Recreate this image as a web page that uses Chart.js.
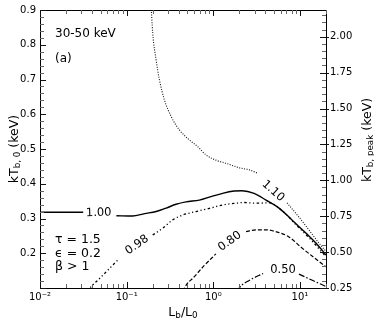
<!DOCTYPE html>
<html>
<head>
<meta charset="utf-8">
<script src="https://cdn.jsdelivr.net/npm/chart.js@4"></script>
<style>
  html, body { margin: 0; padding: 0; background: #fff; }
  #wrap { width: 374px; height: 321px; }
</style>
</head>
<body>
<div id="wrap"><canvas id="myChart" width="374" height="321"></canvas></div>
<script>
// contour levels
const levels = ["1.10", "1.00", "0.98", "0.80", "0.50"];

// L_b/L_0 (x) and kT_b,0 in keV (y) along each contour, null = gap for the label
const lb110 = [0.19, 0.200, 0.219, 0.239, 0.273, 0.327, 0.406, 0.530, 0.660, 0.825, 1.07, 1.40, 1.99, 2.60, 3.21, 4.8, 7.10, 9.75, 12.7, 16.5, 20];
const kt110 = [0.93, 0.833, 0.756, 0.699, 0.641, 0.593, 0.555, 0.526, 0.507, 0.483, 0.468, 0.459, 0.446, 0.440, 0.431, null, 0.345, 0.304, 0.267, 0.230, 0.205];

const lb100 = [0.01, 0.0315, 0.05, 0.0762, 0.117, 0.161, 0.219, 0.286, 0.372, 0.485, 0.690, 0.942, 1.28, 1.74, 2.15, 2.96, 4.06, 5.74, 8.09, 11.7, 15.3, 20];
const kt100 = [0.318, 0.318, null, 0.308, 0.307, 0.314, 0.320, 0.330, 0.341, 0.348, 0.353, 0.363, 0.3725, 0.379, 0.380, 0.3725, 0.353, 0.330, 0.296, 0.258, 0.2295, 0.195];

const lb098 = [0.035, 0.0376, 0.049, 0.061, 0.0794, 0.13, 0.200, 0.261, 0.340, 0.443, 0.632, 0.900, 1.28, 1.82, 2.27, 3.10, 4.41, 6.27, 8.93, 12.7, 20];
const kt098 = [0.09, 0.100, 0.128, 0.152, 0.181, null, 0.2525, 0.272, 0.296, 0.310, 0.320, 0.329, 0.339, 0.344, 0.346, 0.344, 0.345, 0.322, 0.283, 0.245, 0.190];

const lb080 = [0.45, 0.465, 0.605, 0.789, 1.07, 1.6, 2.39, 3.12, 4.06, 5.30, 7.48, 10.4, 14.9, 20];
const kt080 = [0.09, 0.100, 0.1325, 0.165, 0.198, null, 0.262, 0.2675, 0.2675, 0.262, 0.247, 0.2166, 0.1855, 0.161];

const lb050 = [1.9, 1.99, 2.66, 3.76, 6.0, 9.75, 13.7, 20];
const kt050 = [0.09, 0.100, 0.123, 0.1417, null, 0.140, 0.123, 0.1043];

// tick values and labels
const xTickValues = [0.01, 0.1, 1, 10];
const xTickLabels = ["10⁻²", "10⁻¹", "10⁰", "10¹"];
const yTickValues = [0.2, 0.3, 0.4, 0.5, 0.6, 0.7, 0.8, 0.9];
const y2TickValues = [0.25, 0.5, 0.75, 1.0, 1.25, 1.5, 1.75, 2.0];

// where each contour label sits (data coords) and its angle
const labelSpots = [
  { text: levels[0], x: 4.9, y: 0.379, rot: 42 },
  { text: levels[1], x: 0.0477, y: 0.316, rot: -2 },
  { text: levels[2], x: 0.132, y: 0.2237, rot: -35 },
  { text: levels[3], x: 1.55, y: 0.234, rot: -36 },
  { text: levels[4], x: 6.38, y: 0.153, rot: 0 },
];

const toPoints = (xs, ys) => xs.map((x, i) => ({ x: x, y: ys[i] }));

const FONT = "'DejaVu Sans', 'Liberation Sans', sans-serif";

// draws text with subscript parts, centred at (x, y), rotated by rot
function drawRich(ctx, parts, x, y, rot, size) {
  ctx.save();
  ctx.translate(x, y);
  ctx.rotate(rot);
  let total = 0;
  const widths = parts.map((p) => {
    ctx.font = (p.sub ? size * 0.7 : size) + "px " + FONT;
    const w = ctx.measureText(p.t).width;
    total += w;
    return w;
  });
  let cx = -total / 2;
  ctx.textBaseline = "alphabetic";
  ctx.textAlign = "left";
  ctx.fillStyle = "#000";
  parts.forEach((p, i) => {
    ctx.font = (p.sub ? size * 0.7 : size) + "px " + FONT;
    ctx.fillText(p.t, cx, p.sub ? size * 0.55 : size * 0.36);
    cx += widths[i];
  });
  ctx.restore();
}

const decorations = {
  id: "decorations",
  afterDraw(chart) {
    const { ctx, chartArea: a, scales } = chart;
    const xs = scales.x, ys = scales.y, y2 = scales.y2;

    ctx.save();
    // top frame line
    ctx.strokeStyle = "#000";
    ctx.lineWidth = 1;
    ctx.beginPath();
    ctx.moveTo(a.left, a.top + 0.5);
    ctx.lineTo(a.right, a.top + 0.5);
    ctx.stroke();

    const tick = (x1, y1, x2, y2_, major) => {
      ctx.strokeStyle = major ? "#111" : "#666";
      ctx.beginPath();
      ctx.moveTo(x1, y1);
      ctx.lineTo(x2, y2_);
      ctx.stroke();
    };

    // x ticks, bottom and top, pointing in
    for (let d = -2; d <= 1; d++) {
      for (let m = 1; m <= 9; m++) {
        const v = m * Math.pow(10, d);
        if (v > 20) continue;
        const px = Math.round(xs.getPixelForValue(v)) + 0.5;
        const len = m === 1 ? 6 : 4;
        tick(px, a.bottom, px, a.bottom - len, m === 1);
        tick(px, a.top, px, a.top + len, m === 1);
      }
    }
    // left ticks
    for (let i = 0; i <= 40; i++) {
      const v = 0.1 + i * 0.02;
      const py = Math.round(ys.getPixelForValue(v)) + 0.5;
      const major = i % 5 === 0;
      tick(a.left, py, a.left + (major ? 6 : 4), py, major);
    }
    // right ticks
    for (let i = 0; i <= 40; i++) {
      const v = 0.25 + i * 0.05;
      if (v > y2.max) break;
      const py = Math.round(y2.getPixelForValue(v)) + 0.5;
      const major = i % 5 === 0;
      if (major) tick(a.right - 6, py, a.right + 3, py, true);
      else tick(a.right - 4, py, a.right, py, false);
    }

    // contour labels
    ctx.fillStyle = "#000";
    ctx.font = "11.5px " + FONT;
    ctx.textAlign = "center";
    ctx.textBaseline = "middle";
    labelSpots.forEach((s) => {
      ctx.save();
      ctx.translate(xs.getPixelForValue(s.x), ys.getPixelForValue(s.y));
      ctx.rotate((s.rot * Math.PI) / 180);
      ctx.fillText(s.text, 0, 0);
      ctx.restore();
    });

    // annotations
    ctx.textAlign = "left";
    ctx.textBaseline = "alphabetic";
    ctx.font = "12px " + FONT;
    ctx.fillText("30-50 keV", 55, 37);
    ctx.fillText("(a)", 55, 62);
    ctx.font = "12.5px " + FONT;
    ctx.fillText("τ = 1.5", 55, 243);
    ctx.fillText("ϵ = 0.2", 55, 257);
    ctx.fillText("β > 1", 55, 270);
    ctx.restore();

    // axis titles
    drawRich(ctx, [{ t: "L" }, { t: "b", sub: true }, { t: "/L" }, { t: "0", sub: true }], (a.left + a.right) / 2, 311, 0, 12.5);
    drawRich(ctx, [{ t: "kT" }, { t: "b, 0", sub: true }, { t: " (keV)" }], 13, (a.top + a.bottom) / 2, -Math.PI / 2, 12.5);
    drawRich(ctx, [{ t: "kT" }, { t: "b, peak", sub: true }, { t: " (keV)" }], 366, 140, -Math.PI / 2, 12.5);
  },
};

const line = (data, dash, width, color) => ({
  data: data,
  borderColor: color || "#000",
  borderWidth: width,
  borderDash: dash,
  pointRadius: 0,
  fill: false,
  cubicInterpolationMode: "monotone",
  spanGaps: false,
});

const ctx = document.getElementById("myChart").getContext("2d");
new Chart(ctx, {
  type: "line",
  data: {
    datasets: [
      line(toPoints(lb110, kt110), [1, 1.5], 1.1, "#111"),
      line(toPoints(lb100, kt100), [], 1.4),
      line(toPoints(lb098, kt098), [2.5, 2.5, 1.2, 2.5, 1.2, 2.5], 1.3),
      line(toPoints(lb080, kt080), [4, 2], 1.2),
      line(toPoints(lb050, kt050), [6, 2, 1.5, 2], 1.2),
    ],
  },
  plugins: [decorations],
  options: {
    responsive: false,
    animation: false,
    devicePixelRatio: 1,
    layout: { padding: { top: 10, left: 0, right: 0, bottom: 0 } },
    plugins: {
      legend: { display: false },
      tooltip: { enabled: false },
      title: { display: false },
    },
    scales: {
      x: {
        type: "logarithmic",
        position: "bottom",
        min: 0.01,
        max: 20,
        grid: { display: false, drawTicks: false },
        border: { display: true, color: "#000", width: 1 },
        afterBuildTicks: (s) => { s.ticks = xTickValues.map((v) => ({ value: v })); },
        afterFit: (s) => { s.height = 33; },
        ticks: {
          autoSkip: false,
          maxRotation: 0,
          padding: 3,
          color: "#000",
          font: { family: FONT, size: 10 },
          callback: (v, i) => xTickLabels[i],
        },
      },
      y: {
        type: "linear",
        position: "left",
        min: 0.1,
        max: 0.9,
        grid: { display: false, drawTicks: false },
        border: { display: true, color: "#000", width: 1 },
        afterBuildTicks: (s) => { s.ticks = yTickValues.map((v) => ({ value: v })); },
        afterFit: (s) => { s.width = 40; },
        ticks: {
          padding: 4,
          color: "#000",
          font: { family: FONT, size: 10 },
          callback: (v) => Number(v).toFixed(1),
        },
      },
      y2: {
        type: "linear",
        position: "right",
        min: 0.25,
        max: 2.186,
        grid: { display: false, drawTicks: false },
        border: { display: true, color: "#000", width: 1 },
        afterBuildTicks: (s) => { s.ticks = y2TickValues.map((v) => ({ value: v })); },
        afterFit: (s) => { s.width = 48; },
        ticks: {
          padding: 4,
          color: "#000",
          font: { family: FONT, size: 10 },
          callback: (v) => Number(v).toFixed(2),
        },
      },
    },
  },
});
</script>
</body>
</html>
